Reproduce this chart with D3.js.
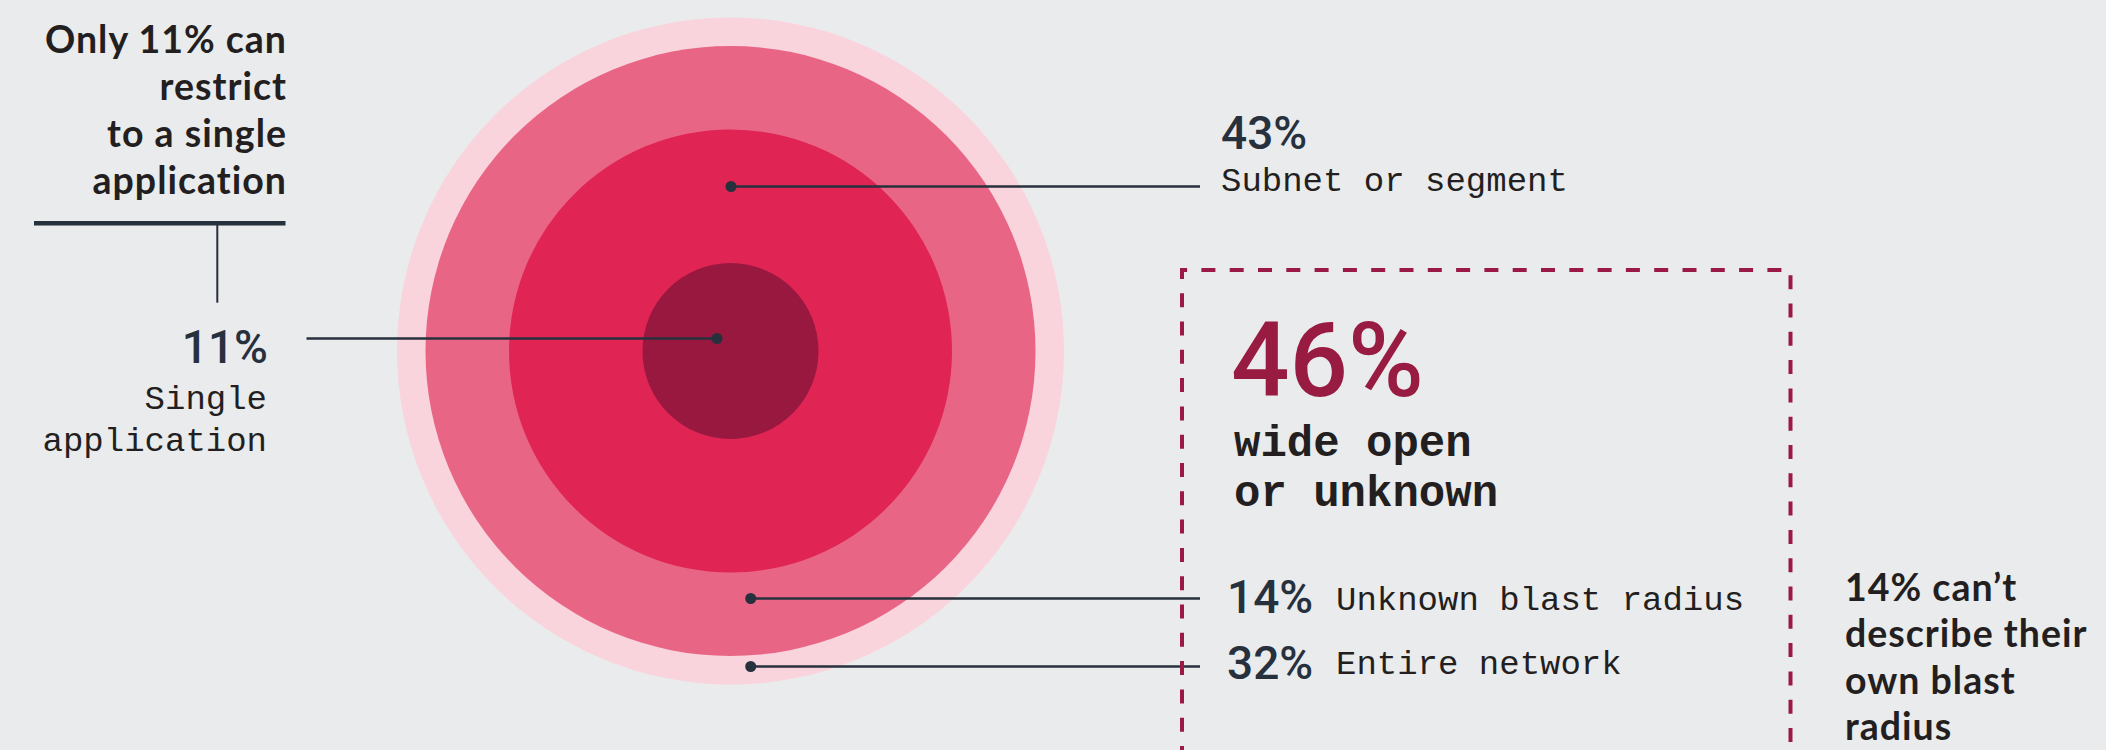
<!DOCTYPE html>
<html>
<head>
<meta charset="utf-8">
<script src="https://cdn.jsdelivr.net/npm/d3@7"></script>
<style>
  html, body { margin: 0; padding: 0; background: #eaebed; }
  svg { display: block; }
  .head { font-family: Lato, "Noto Sans", sans-serif; font-weight: 700; font-size: 37.5px; letter-spacing: 1px; fill: #231f20; }
  .num { font-family: Roboto, "Noto Sans", sans-serif; font-weight: 500; font-size: 46px; fill: #27303d; }
  .lbl { font-family: "Liberation Mono", "DejaVu Sans Mono", monospace; font-size: 34px; fill: #231f20; }
  .big { font-family: Roboto, sans-serif; font-weight: 500; font-size: 103px; fill: #981b42; }
  .bold-mono { font-family: "Liberation Mono", "DejaVu Sans Mono", monospace; font-weight: 700; font-size: 44px; fill: #231f20; }
</style>
</head>
<body>
<div id="chart"></div>
<script>
// data
let categories = ['Single application', 'Subnet or segment', 'Unknown blast radius', 'Entire network'];
let values = [11, 43, 14, 32];
let ringColors = ['#981840', '#e02453', '#e96586', '#f9d4dc'];
let openShare = 46;
let leftNote = ['Only 11% can', 'restrict', 'to a single', 'application'];
let rightNote = ['14% can\u2019t', 'describe their', 'own blast', 'radius'];

let svgWidth = 2106;
let svgHeight = 750;

let svg = d3.select('#chart')
  .append('svg')
  .attr('width', svgWidth)
  .attr('height', svgHeight);

// ring radii follow cumulative share
let cum = Array.from(d3.cumsum(values));
let center = {x: 730.5, y: 351};
let rScale = d3.scaleLinear()
  .domain([0].concat(cum))
  .range([0, 88, 221.5, 305, 333.5]);

let rings = values.map((v, i) => ({name: categories[i], value: v, outer: cum[i], color: ringColors[i]}));

svg.append('g')
  .selectAll('circle')
  .data(rings.slice().reverse())
  .enter()
  .append('circle')
  .attr('cx', center.x)
  .attr('cy', center.y)
  .attr('r', d => rScale(d.outer))
  .attr('fill', d => d.color);

// leader lines: dot offset from centre, line end x
let leaders = [
  {dx: -13.5, dy: -12.5, x2: 306.5},
  {dx: 0.5, dy: -164.5, x2: 1200},
  {dx: 20.2, dy: 247.5, x2: 1200},
  {dx: 20.2, dy: 315.5, x2: 1200}
];

let lead = svg.append('g');
leaders.forEach(l => {
  lead.append('line')
    .attr('x1', center.x + l.dx).attr('y1', center.y + l.dy)
    .attr('x2', l.x2).attr('y2', center.y + l.dy)
    .attr('stroke', '#27303d')
    .attr('stroke-width', 2.5);
  lead.append('circle')
    .attr('cx', center.x + l.dx).attr('cy', center.y + l.dy)
    .attr('r', 5.5)
    .attr('fill', '#27303d');
});

let fmt = v => v + '%';

// 11% label (left)
svg.append('text').attr('class', 'num').attr('x', 268).attr('y', 362.5)
  .attr('text-anchor', 'end').text(fmt(values[0]));
svg.append('text').attr('class', 'lbl').attr('x', 267).attr('y', 409)
  .attr('text-anchor', 'end').text('Single');
svg.append('text').attr('class', 'lbl').attr('x', 267).attr('y', 450.5)
  .attr('text-anchor', 'end').text('application');

// 43% label
svg.append('text').attr('class', 'num').attr('x', 1221).attr('y', 148.5).text(fmt(values[1]));
svg.append('text').attr('class', 'lbl').attr('x', 1221).attr('y', 190.5).text(categories[1]);

// 14% and 32% labels
svg.append('text').attr('class', 'num').attr('x', 1227).attr('y', 613).text(fmt(values[2]));
svg.append('text').attr('class', 'lbl').attr('x', 1336).attr('y', 610).text(categories[2]);
svg.append('text').attr('class', 'num').attr('x', 1227).attr('y', 679).text(fmt(values[3]));
svg.append('text').attr('class', 'lbl').attr('x', 1336).attr('y', 674).text(categories[3]);

// dashed box
svg.append('path')
  .attr('d', 'M1182,760V270H1790.5V760')
  .attr('fill', 'none')
  .attr('stroke', '#9b1a45')
  .attr('stroke-width', 4)
  .attr('stroke-dasharray', '14 14.3');

svg.append('text').attr('class', 'big').attr('x', 1231).attr('y', 396).text(fmt(openShare));
svg.append('text').attr('class', 'bold-mono').attr('x', 1234).attr('y', 455.5).text('wide open');
svg.append('text').attr('class', 'bold-mono').attr('x', 1234).attr('y', 505.5).text('or unknown');

// left note
let ln = svg.append('text').attr('class', 'head').attr('text-anchor', 'end');
leftNote.forEach((t, i) => {
  ln.append('tspan').attr('x', 287).attr('y', 52.7 + i * 47.2).text(t);
});
svg.append('line').attr('x1', 34).attr('x2', 285.5).attr('y1', 223.3).attr('y2', 223.3)
  .attr('stroke', '#27303d').attr('stroke-width', 4.5);
svg.append('line').attr('x1', 217.3).attr('x2', 217.3).attr('y1', 225).attr('y2', 302.7)
  .attr('stroke', '#27303d').attr('stroke-width', 2);

// right note
let rn = svg.append('text').attr('class', 'head');
rightNote.forEach((t, i) => {
  rn.append('tspan').attr('x', 1845).attr('y', 600.5 + i * 46.5).text(t);
});
</script>
</body>
</html>
